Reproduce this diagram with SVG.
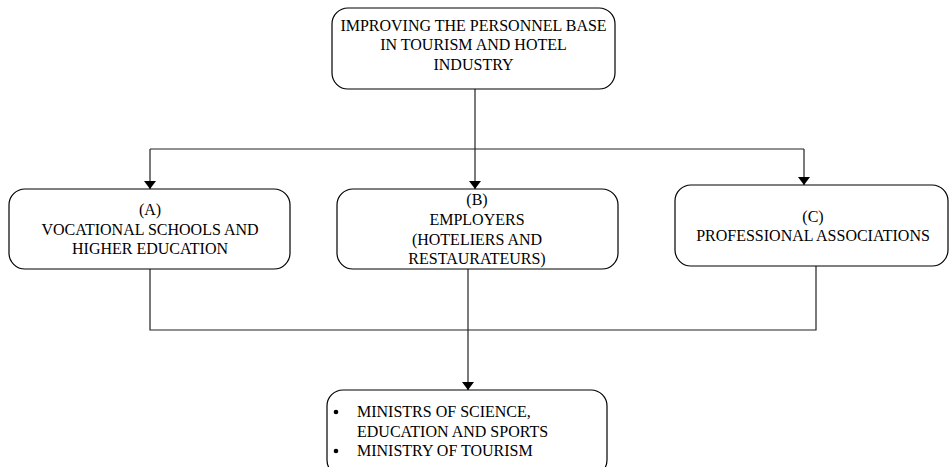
<svg xmlns="http://www.w3.org/2000/svg" width="950" height="467" viewBox="0 0 950 467">
<style>
.box{fill:#fff;stroke:#000;stroke-width:1.2}
.t{font-family:"Liberation Serif","Times New Roman",serif;font-size:16px;fill:#000;text-anchor:middle}
.l{font-family:"Liberation Serif","Times New Roman",serif;font-size:16px;fill:#000}
.c{fill:none;stroke:#222;stroke-width:1.2}
</style>
<defs>
<marker id="arr" viewBox="0 0 8 12" refX="8" refY="6" markerWidth="8" markerHeight="12" markerUnits="userSpaceOnUse" orient="auto">
<path d="M0,0 L8,6 L0,12 z" fill="#000"/>
</marker>
</defs>
<g id="connectors">
<path class="c" d="M475,89 V149"/>
<path class="c" d="M150,149 H804"/>
<path class="c" d="M150,149 V189" marker-end="url(#arr)"/>
<path class="c" d="M475,149 V189" marker-end="url(#arr)"/>
<path class="c" d="M804,149 V185" marker-end="url(#arr)"/>
<path class="c" d="M150,269 V330 H816 V266"/>
<path class="c" d="M468,269 V390" marker-end="url(#arr)"/>
</g>
<g id="top">
<rect class="box" x="332" y="8" width="283" height="81" rx="16"/>
<text class="t" x="473.5" y="31">IMPROVING THE PERSONNEL BASE</text>
<text class="t" x="473.5" y="50">IN TOURISM AND HOTEL</text>
<text class="t" x="473.5" y="70">INDUSTRY</text>
</g>
<g id="nodeA">
<rect class="box" x="9" y="189" width="281" height="80" rx="16"/>
<text class="t" x="150" y="215">(A)</text>
<text class="t" x="150" y="235">VOCATIONAL SCHOOLS AND</text>
<text class="t" x="150" y="254">HIGHER EDUCATION</text>
</g>
<g id="nodeB">
<rect class="box" x="337" y="189" width="281" height="80" rx="16"/>
<text class="t" x="477" y="205">(B)</text>
<text class="t" x="477" y="225">EMPLOYERS</text>
<text class="t" x="477" y="245">(HOTELIERS AND</text>
<text class="t" x="477" y="264">RESTAURATEURS)</text>
</g>
<g id="nodeC">
<rect class="box" x="675" y="185" width="273" height="81" rx="16"/>
<text class="t" x="813" y="222">(C)</text>
<text class="t" x="813" y="241">PROFESSIONAL ASSOCIATIONS</text>
</g>
<g id="bottom">
<rect class="box" x="327" y="390" width="280" height="86" rx="16"/>
<circle cx="336" cy="412" r="2.3" fill="#000"/>
<circle cx="336" cy="451" r="2.3" fill="#000"/>
<text class="l" x="357" y="417">MINISTRS OF SCIENCE,</text>
<text class="l" x="357" y="437">EDUCATION AND SPORTS</text>
<text class="l" x="357" y="456">MINISTRY OF TOURISM</text>
</g>
</svg>
